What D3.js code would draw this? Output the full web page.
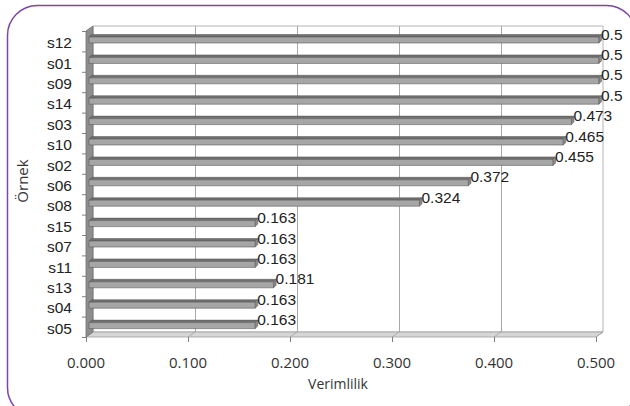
<!DOCTYPE html>
<html>
<head>
<meta charset="utf-8">
<script src="https://cdn.jsdelivr.net/npm/d3@7"></script>
<style>
  html, body { margin: 0; padding: 0; background: #fff; }
  svg { display: block; }
</style>
</head>
<body>
<svg id="chart" width="630" height="406"></svg>
<script>
// Samples, top to bottom, and their efficiency scores
const categories = ["s12", "s01", "s09", "s14", "s03", "s10", "s02", "s06", "s08", "s15", "s07", "s11", "s13", "s04", "s05"];
const values = [0.5, 0.5, 0.5, 0.5, 0.473, 0.465, 0.455, 0.372, 0.324, 0.163, 0.163, 0.163, 0.181, 0.163, 0.163];
const valueLabels = ["0.5", "0.5", "0.5", "0.5", "0.473", "0.465", "0.455", "0.372", "0.324", "0.163", "0.163", "0.163", "0.181", "0.163", "0.163"];
const xTicks = [0, 0.1, 0.2, 0.3, 0.4, 0.5];
const xTitle = "Verimlilik";
const yTitle = "Örnek";

const svg = d3.select("#chart");

// Outer rounded frame
svg.append("rect")
  .attr("x", 7.5).attr("y", 5.5)
  .attr("width", 629).attr("height", 412)
  .attr("rx", 30).attr("ry", 30)
  .attr("fill", "none")
  .attr("stroke", "#7d45a8")
  .attr("stroke-width", 1.5);

// Front plane scales; the back wall is offset by the depth vector
const x = d3.scaleLinear().domain([0, 0.5]).range([86, 596]);
const y = d3.scaleBand().domain(categories).range([31, 337]).padding(0);
const DX = 7, DY = -5;
const yTop = 31, yBottom = 337;
const x0 = x(0), x1 = x(0.5);

const poly = pts => "M" + pts.map(p => p.join(",")).join("L") + "Z";

// Back wall
svg.append("path")
  .attr("d", poly([[x0 + DX, yTop + DY], [x1 + DX, yTop + DY], [x1 + DX, yBottom + DY], [x0 + DX, yBottom + DY]]))
  .attr("fill", "#fff")
  .attr("stroke", "#b4b4b4")
  .attr("stroke-width", 1);

// Vertical gridlines on the back wall
xTicks.slice(1, -1).forEach(t => {
  svg.append("line")
    .attr("x1", x(t) + DX + 0.5).attr("x2", x(t) + DX + 0.5)
    .attr("y1", yTop + DY).attr("y2", yBottom + DY)
    .attr("stroke", "#a8a8a8").attr("stroke-width", 1);
});

// Floor with its gridlines
svg.append("path")
  .attr("d", poly([[x0, yBottom], [x1, yBottom], [x1 + DX, yBottom + DY], [x0 + DX, yBottom + DY]]))
  .attr("fill", "#d6d6d6")
  .attr("stroke", "#a0a0a0")
  .attr("stroke-width", 0.8);
xTicks.forEach(t => {
  svg.append("line")
    .attr("x1", x(t)).attr("y1", yBottom)
    .attr("x2", x(t) + DX).attr("y2", yBottom + DY)
    .attr("stroke", "#a0a0a0").attr("stroke-width", 0.8);
});

// Left side wall
svg.append("path")
  .attr("d", poly([[x0, yTop], [x0 + DX, yTop + DY], [x0 + DX, yBottom + DY], [x0, yBottom]]))
  .attr("fill", "#8e8e8e")
  .attr("stroke", "#6e6e6e")
  .attr("stroke-width", 0.8);

// Bars (top face, front face, end cap)
const BD = 2.5, BH = 6, BOFF = 3, BY = 6;
const bars = svg.append("g");
categories.forEach((c, i) => {
  const v = values[i];
  const xa = x(0) + BOFF, xb = x(v) + BOFF;
  const yf = y(c) + BY;
  bars.append("path")
    .attr("d", poly([[xa, yf], [xb, yf], [xb + BD, yf - BD], [xa + BD, yf - BD]]))
    .attr("fill", "#707070").attr("stroke", "#555").attr("stroke-width", 0.5);
  bars.append("path")
    .attr("d", poly([[xa, yf], [xb, yf], [xb, yf + BH], [xa, yf + BH]]))
    .attr("fill", "#a6a6a6").attr("stroke", "#5c5c5c").attr("stroke-width", 0.6);
  bars.append("path")
    .attr("d", poly([[xb, yf], [xb + BD, yf - BD], [xb + BD, yf + BH - BD], [xb, yf + BH]]))
    .attr("fill", "#8a8a8a").attr("stroke", "#555").attr("stroke-width", 0.5);
});

// Category axis ticks and labels
const yEdges = categories.map(c => y(c)).concat([yBottom]);
yEdges.forEach(e => {
  svg.append("line")
    .attr("x1", x0 - 4).attr("x2", x0)
    .attr("y1", e + 0.5).attr("y2", e + 0.5)
    .attr("stroke", "#808080").attr("stroke-width", 1);
});
svg.append("g").selectAll("text").data(categories).join("text")
  .attr("x", 72)
  .attr("y", c => y(c) + y.bandwidth() / 2 + 1.5)
  .attr("text-anchor", "end")
  .attr("dominant-baseline", "central")
  .attr("font-family", "'Liberation Sans', Arial, sans-serif")
  .attr("font-size", 15.5)
  .attr("fill", "#222")
  .text(c => c);

// Value axis ticks and labels
xTicks.forEach(t => {
  svg.append("line")
    .attr("x1", x(t) + 0.5).attr("x2", x(t) + 0.5)
    .attr("y1", yBottom).attr("y2", yBottom + 5)
    .attr("stroke", "#808080").attr("stroke-width", 1);
});
svg.append("g").selectAll("text").data(xTicks).join("text")
  .attr("x", t => x(t))
  .attr("y", 362)
  .attr("text-anchor", "middle")
  .attr("dominant-baseline", "central")
  .attr("font-family", "'Open Sans', sans-serif")
  .attr("font-size", 15)
  .attr("fill", "#333")
  .text(d3.format(".3f"));

// Value labels at bar ends
svg.append("g").selectAll("text").data(categories).join("text")
  .attr("x", (c, i) => x(values[i]) + 5)
  .attr("y", c => y(c) + 3)
  .attr("dominant-baseline", "central")
  .attr("font-family", "'Liberation Sans', Arial, sans-serif")
  .attr("font-size", 15.5)
  .attr("fill", "#222")
  .text((c, i) => valueLabels[i]);

// Axis titles
svg.append("text")
  .attr("x", 338).attr("y", 383)
  .attr("text-anchor", "middle")
  .attr("dominant-baseline", "central")
  .attr("font-family", "'Open Sans', sans-serif")
  .attr("font-size", 14)
  .attr("fill", "#333")
  .text(xTitle);
svg.append("text")
  .attr("transform", "translate(22,181) rotate(-90)")
  .attr("text-anchor", "middle")
  .attr("dominant-baseline", "central")
  .attr("font-family", "'Open Sans', sans-serif")
  .attr("font-size", 15)
  .attr("fill", "#333")
  .text(yTitle);
</script>
</body>
</html>
